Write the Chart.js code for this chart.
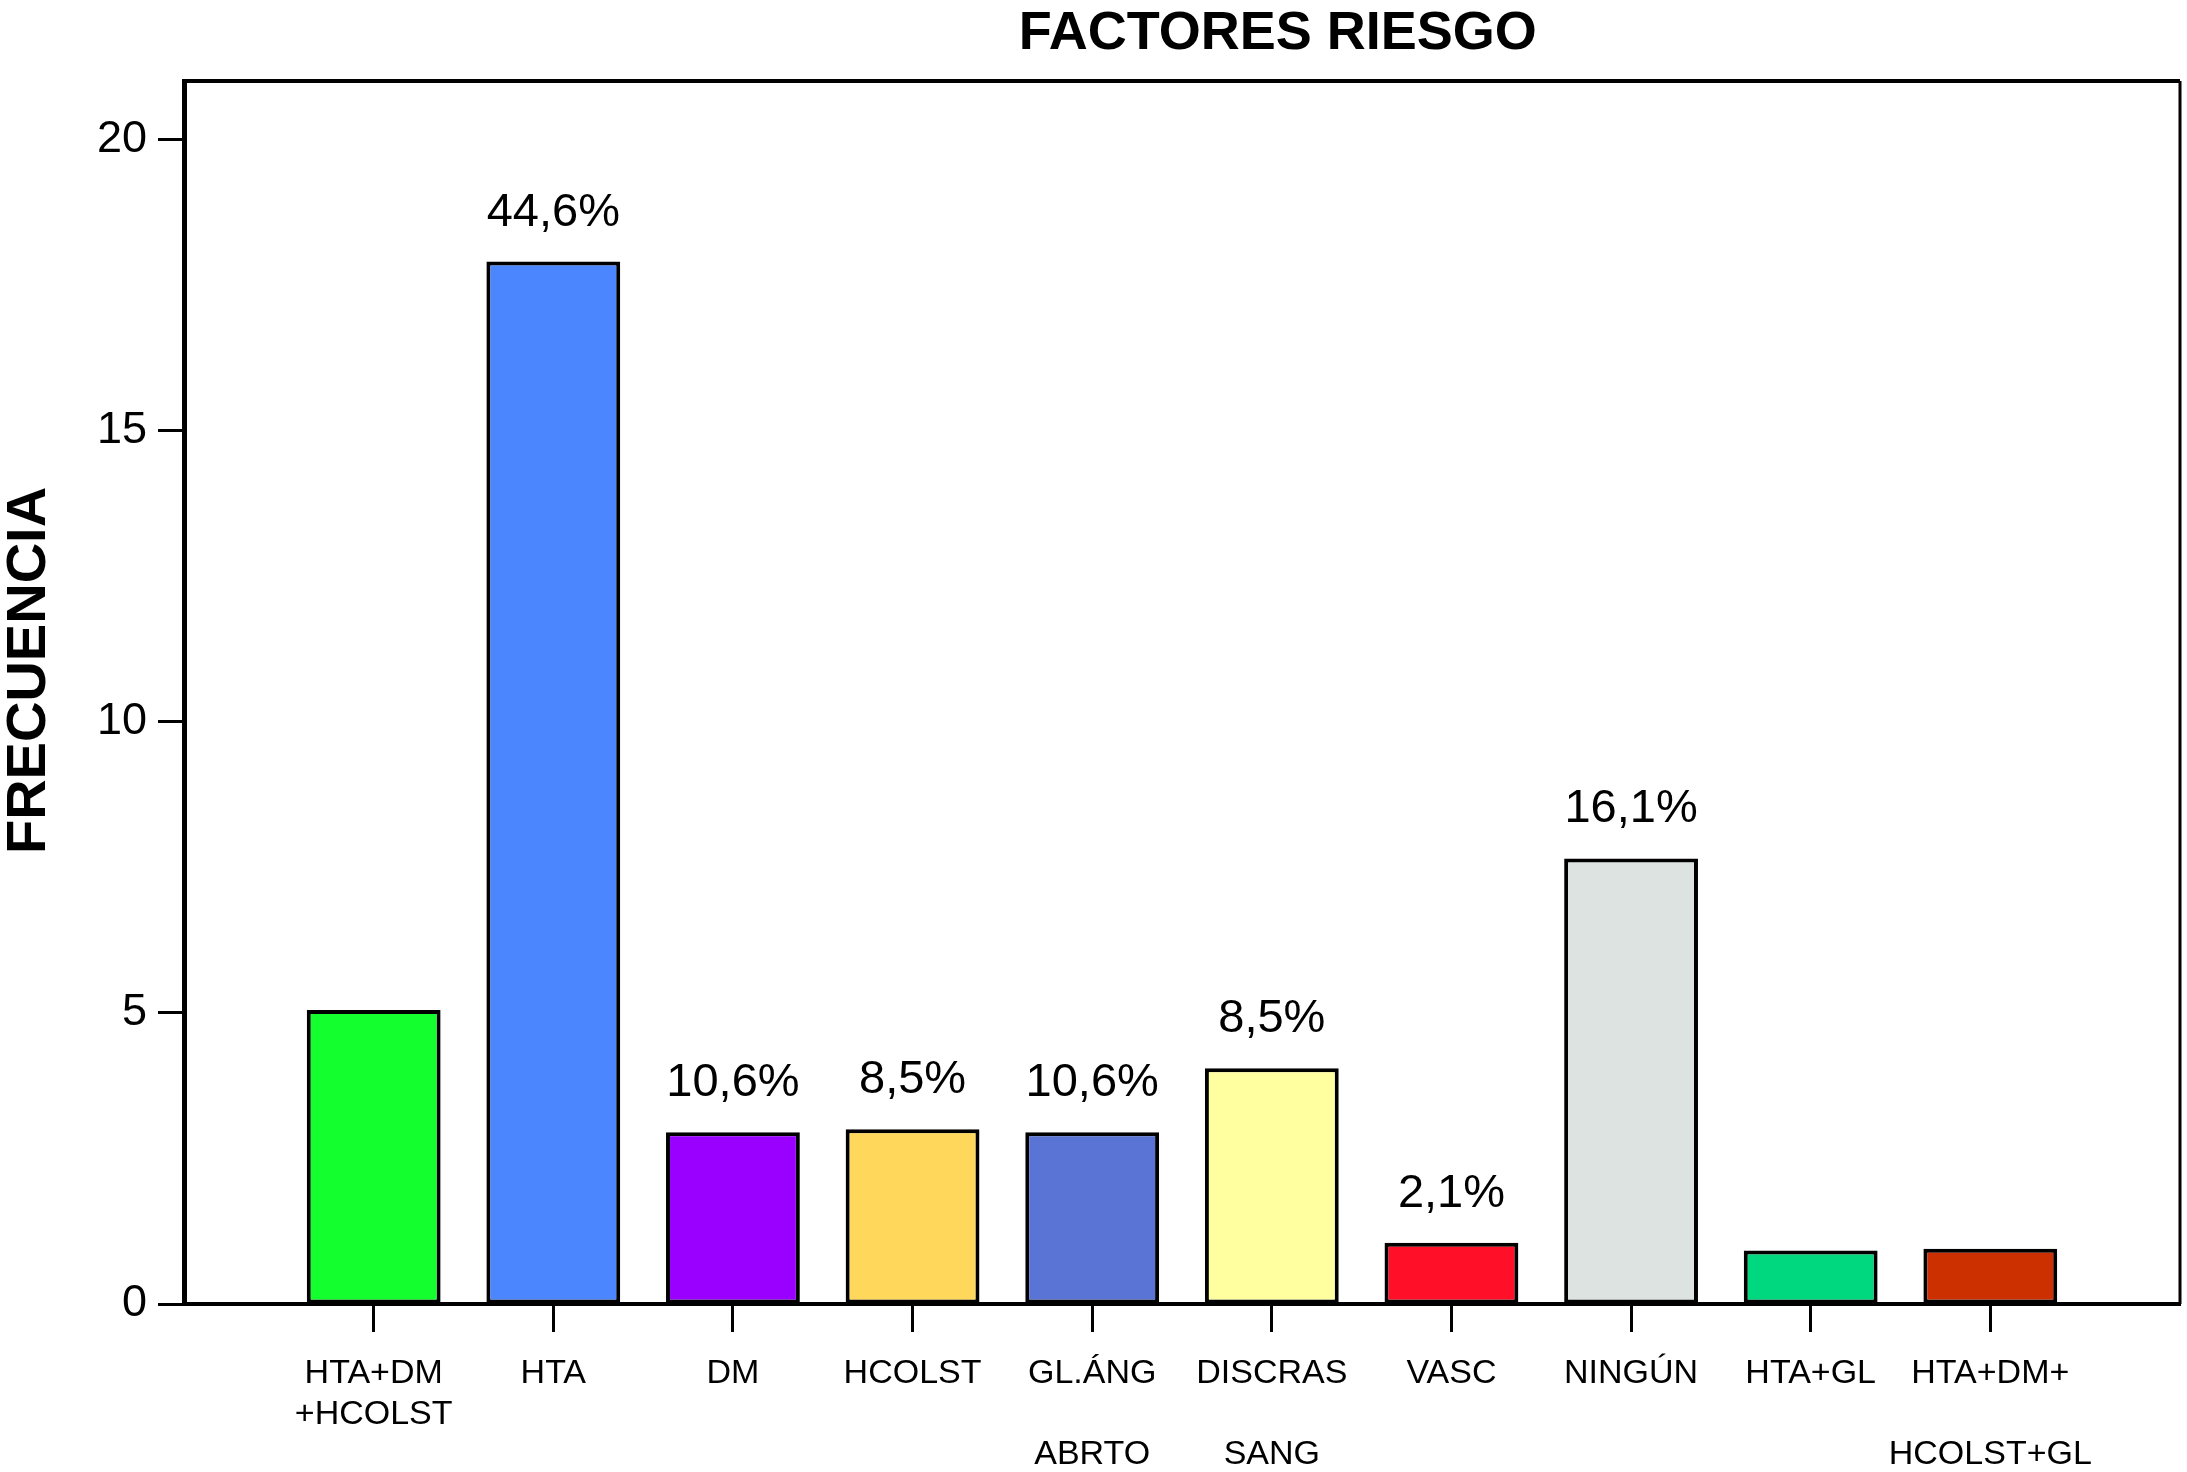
<!DOCTYPE html>
<html>
<head>
<meta charset="utf-8">
<script src="https://cdn.jsdelivr.net/npm/chart.js@4.4.1/dist/chart.umd.min.js"></script>
<style>
  html, body { margin: 0; padding: 0; background: #fff; }
  #wrap { width: 2187px; height: 1472px; }
</style>
</head>
<body>
<div id="wrap"><canvas id="c" width="2187" height="1472"></canvas></div>
<script>
// datos
const categories = [
  ['HTA+DM', '+HCOLST'], ['HTA'], ['DM'], ['HCOLST'], ['GL.ÁNG', '', 'ABRTO'],
  ['DISCRAS', '', 'SANG'], ['VASC'], ['NINGÚN'], ['HTA+GL'], ['HTA+DM+', '', 'HCOLST+GL']
]
const frecuencia = [5.05, 17.9, 2.95, 3.0, 2.95, 4.05, 1.05, 7.65, 0.92, 0.95]
const porcentajes = ['', '44,6%', '10,6%', '8,5%', '10,6%', '8,5%', '2,1%', '16,1%', '', '']
const colores = ['#14ff2e', '#4c86ff', '#9900ff', '#ffd75a', '#5a74d5', '#ffffa0', '#ff1028', '#dce3e1', '#00d87f', '#cc2f00']
const yTicks = [0, 5, 10, 15, 20]
const titulo = 'FACTORES RIESGO'
const tituloY = 'FRECUENCIA'

const FONT = '"Liberation Sans", Arial, Helvetica, sans-serif'

const marco = {
  id: 'marco',
  afterDraw(chart) {
    const { ctx, chartArea: a } = chart
    ctx.save()
    ctx.strokeStyle = '#000'
    ctx.lineWidth = 4
    ctx.beginPath(); ctx.moveTo(a.left - 2, a.top); ctx.lineTo(a.right, a.top); ctx.stroke()
    ctx.lineWidth = 3
    ctx.beginPath(); ctx.moveTo(a.right, a.top); ctx.lineTo(a.right, a.bottom); ctx.stroke()
    ctx.fillStyle = '#000'
    ctx.textAlign = 'center'
    ctx.textBaseline = 'middle'
    // titulo
    ctx.font = 'bold 54px ' + FONT
    ctx.fillText(titulo, a.left + a.width * 0.548, a.top - 47)
    // titulo eje y
    ctx.font = 'bold 56px ' + FONT
    ctx.translate(30, a.top + a.height * 0.482)
    ctx.rotate(-Math.PI / 2)
    ctx.fillText(tituloY, 0, 0)
    ctx.restore()
  }
}

const etiquetas = {
  id: 'etiquetas',
  afterDatasetsDraw(chart) {
    const { ctx } = chart
    const meta = chart.getDatasetMeta(0)
    ctx.save()
    ctx.fillStyle = '#000'
    ctx.font = '47px ' + FONT
    ctx.textAlign = 'center'
    ctx.textBaseline = 'alphabetic'
    meta.data.forEach((bar, i) => {
      if (porcentajes[i]) ctx.fillText(porcentajes[i], bar.x, bar.y - 36)
    })
    ctx.restore()
  }
}

new Chart(document.getElementById('c'), {
  type: 'bar',
  data: {
    datasets: [{
      data: frecuencia.map((v, i) => ({ x: i + 1, y: v })),
      backgroundColor: colores,
      borderColor: '#000',
      borderWidth: 4,
      borderSkipped: false,
      barPercentage: 0.745,
      categoryPercentage: 1
    }]
  },
  options: {
    responsive: false,
    devicePixelRatio: 1,
    animation: false,
    layout: { padding: { top: 81, right: 7, bottom: 0, left: 0 } },
    plugins: { legend: { display: false }, tooltip: { enabled: false } },
    scales: {
      x: {
        type: 'linear',
        min: 1 - 1.056,
        max: categories.length + 1.056,
        offset: false,
        afterBuildTicks(s) { s.ticks = categories.map((c, i) => ({ value: i + 1 })) },
        afterFit(s) { s.height = 168 },
        ticks: {
          autoSkip: false,
          maxRotation: 0,
          padding: 22,
          color: '#000',
          font: { family: FONT, size: 34, lineHeight: 1.18 },
          callback: (v) => categories[v - 1] || ''
        },
        grid: { offset: false, drawOnChartArea: false, drawTicks: true, tickLength: 28, tickWidth: 3, tickColor: '#000' },
        border: { display: true, color: '#000', width: 4 }
      },
      y: {
        min: 0,
        max: 21,
        afterBuildTicks(s) { s.ticks = yTicks.map(v => ({ value: v })) },
        afterFit(s) { s.width = 184 },
        ticks: { padding: 11, color: '#000', font: { family: FONT, size: 45 } },
        grid: { drawOnChartArea: false, drawTicks: true, tickLength: 26, tickWidth: 3, tickColor: '#000' },
        border: { display: true, color: '#000', width: 5 }
      }
    }
  },
  plugins: [marco, etiquetas]
})
</script>
</body>
</html>
